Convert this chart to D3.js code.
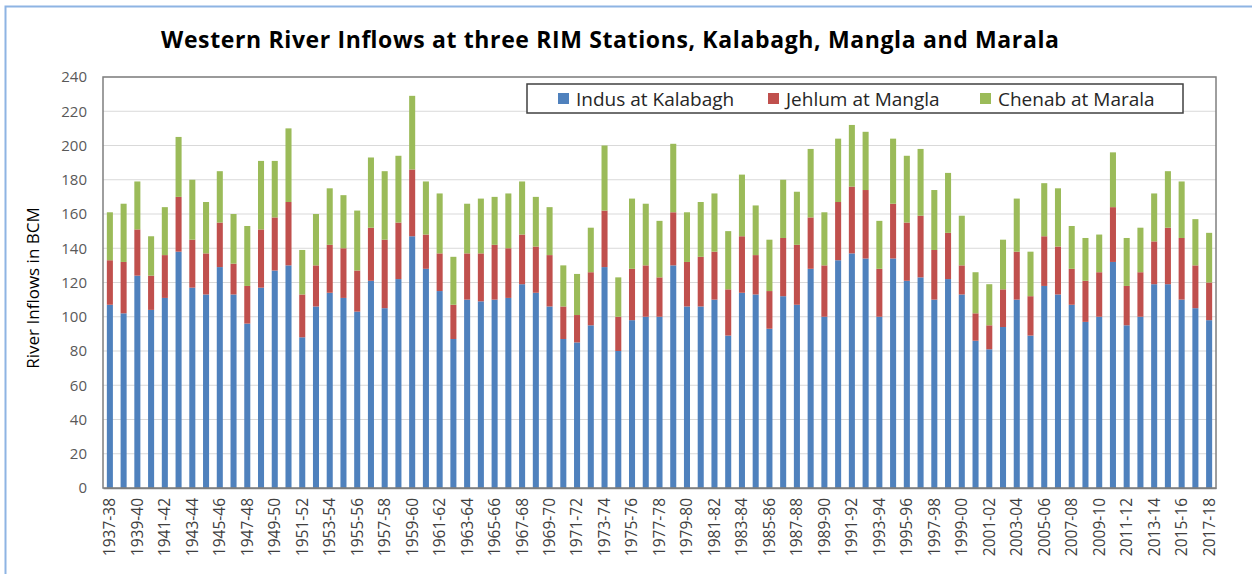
<!DOCTYPE html>
<html><head><meta charset="utf-8">
<script src="https://cdn.jsdelivr.net/npm/d3@7"></script>
<style>body{margin:0;background:#fff}svg{display:block}</style>
</head><body>
<svg id="c" width="1252" height="574"></svg>
<script>
const years = [];
for (let y = 1937; y <= 2017; y++) years.push(y + "-" + String((y + 1) % 100).padStart(2, "0"));

const indus = [107,102,124,104,111,138,117,113,129,113,96,117,127,130,88,106,114,111,103,121,
105,122,147,128,115,87,110,109,110,111,119,114,106,87,85,95,129,80,98,100,
100,130,106,106,110,89,114,113,93,112,107,128,100,133,137,134,100,134,121,123,
110,122,113,86,81,94,110,89,118,113,107,97,100,132,95,100,119,119,110,105,98];
const jehlum = [26,30,27,20,25,32,28,24,26,18,22,34,31,37,25,24,28,29,24,31,
40,33,39,20,22,20,27,28,32,29,29,27,30,19,16,31,33,20,30,30,
23,31,26,29,28,27,33,23,22,34,35,30,30,34,39,40,28,32,34,36,
29,27,17,16,14,22,28,23,29,28,21,24,26,32,23,26,25,33,36,25,22];
const chenab = [28,34,28,23,28,35,35,30,30,29,35,40,33,43,26,30,33,31,35,41,
40,39,43,31,35,28,29,32,28,32,31,29,28,24,24,26,38,23,41,36,
33,40,29,32,34,34,36,29,30,34,31,40,31,37,36,34,28,38,39,39,
35,35,29,24,24,29,31,26,31,34,25,25,22,32,28,26,28,33,33,27,29];
const seriesNames = ["Indus at Kalabagh", "Jehlum at Mangla", "Chenab at Marala"];
const seriesColors = ["#4F81BD", "#C0504D", "#9BBB59"];
const yTicks = d3.range(0, 241, 20);

const svg = d3.select("#c");
// outer frame
svg.append("rect").attr("x", 5.5).attr("y", 6.5).attr("width", 1300).attr("height", 600)
  .attr("fill", "#fff").attr("stroke", "#8EB4E3").attr("stroke-width", 2);

const M = {l: 103, r: 1216, t: 77, b: 488};
const x = d3.scaleBand().domain(years).range([M.l, M.r]).paddingInner(0.56).paddingOuter(0.28);
const y = d3.scaleLinear().domain([0, 240]).range([M.b, M.t]);

// gridlines
svg.append("g").selectAll("line").data(yTicks.filter(d => d > 0)).join("line")
  .attr("x1", M.l).attr("x2", M.r).attr("y1", d => y(d)).attr("y2", d => y(d))
  .attr("stroke", "#D9D9D9").attr("stroke-width", 1);

const table = years.map((yr, i) => ({yr, a: indus[i], b: jehlum[i], c: chenab[i]}));
const stack = d3.stack().keys(["a", "b", "c"])(table);
svg.append("g").selectAll("g").data(stack).join("g")
  .attr("fill", (d, i) => seriesColors[i])
  .selectAll("rect").data(d => d).join("rect")
  .attr("x", d => x(d.data.yr)).attr("width", x.bandwidth())
  .attr("y", d => y(d[1])).attr("height", d => y(d[0]) - y(d[1]));

// plot border
svg.append("rect").attr("x", M.l).attr("y", M.t).attr("width", M.r - M.l).attr("height", M.b - M.t)
  .attr("fill", "none").attr("stroke", "#7F7F7F").attr("stroke-width", 1.5);

// y axis
const ya = svg.append("g").attr("transform", `translate(${M.l},0)`)
  .call(d3.axisLeft(y).tickValues(yTicks).tickSize(0).tickPadding(16));
ya.select(".domain").remove();
ya.selectAll("text").attr("font-family", "Open Sans, sans-serif").attr("font-size", 15).attr("fill", "#595959");

// x axis
const xa = svg.append("g").attr("transform", `translate(0,${M.b})`)
  .call(d3.axisBottom(x).tickValues(years.filter((d, i) => i % 2 === 0)).tickSize(0));
xa.select(".domain").attr("stroke", "#7F7F7F").attr("stroke-width", 1.5);
xa.selectAll("text").attr("font-family", "Open Sans, sans-serif").attr("font-size", 15.5).attr("fill", "#404040")
  .attr("transform", "rotate(-90)").attr("text-anchor", "end").attr("dx", "-10").attr("dy", "0.35em").attr("y", 0).attr("x", 0);

// title
svg.append("text").attr("x", 610).attr("y", 48).attr("text-anchor", "middle")
  .attr("font-family", "Open Sans, sans-serif").attr("font-weight", "bold").attr("font-size", 23).attr("fill", "#000")
  .attr("textLength", 898).attr("lengthAdjust", "spacing")
  .text("Western River Inflows at three RIM Stations, Kalabagh, Mangla and Marala");

// y label
svg.append("text").attr("transform", "translate(39,288) rotate(-90)").attr("text-anchor", "middle")
  .attr("font-family", "Open Sans, sans-serif").attr("font-size", 17).attr("fill", "#000")
  .text("River Inflows in BCM");

// legend
const lg = svg.append("g");
lg.append("rect").attr("x", 527).attr("y", 84).attr("width", 656).attr("height", 29)
  .attr("fill", "#fff").attr("stroke", "#404040").attr("stroke-width", 1.5);
const lx = [558, 768, 980];
seriesNames.forEach((n, i) => {
  lg.append("rect").attr("x", lx[i]).attr("y", 93).attr("width", 11).attr("height", 11).attr("fill", seriesColors[i]);
  lg.append("text").attr("x", lx[i] + 18).attr("y", 105.5).attr("font-family", "Open Sans, sans-serif")
    .attr("font-size", 19).attr("fill", "#262626").text(n);
});
</script>
</body></html>
